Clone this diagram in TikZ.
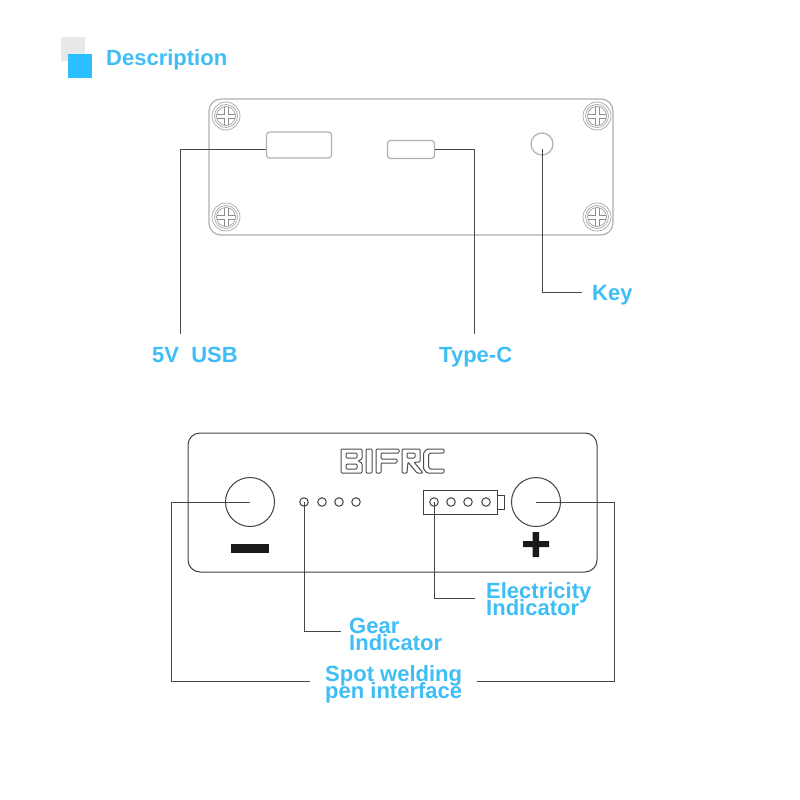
\documentclass[tikz,border=0pt]{standalone}
\usepackage{fontspec}
\usepackage{xcolor}
\setmainfont{Liberation Sans}
\usetikzlibrary{calc}
\definecolor{labelblue}{RGB}{62,190,245}
\definecolor{squareblue}{RGB}{45,190,255}
\definecolor{squaregrey}{RGB}{232,232,232}
\definecolor{panelgrey}{RGB}{175,175,175}
\definecolor{leadgrey}{RGB}{70,70,70}
\tikzset{
	label/.style={anchor=base west,inner sep=0pt,text=labelblue,font=\fontsize{22}{22}\selectfont\bfseries},
	lead/.style={draw=leadgrey,line width=1pt},
	panel/.style={draw=panelgrey,line width=1.2pt},
	front/.style={draw=black!75,line width=1pt},
	port/.style={panel,rounded corners=3pt,inner sep=0pt},
	lamp/.style={circle,front,minimum size=8.5pt,inner sep=0pt},
	knob/.style={circle,front,minimum size=49pt,inner sep=0pt},
	screwhead/.style={circle,panel,line width=0.8pt,minimum size=28pt,inner sep=0pt},
	logo/.style={draw=black!70,line width=1pt,rounded corners=1pt}
}
\newcommand{\screw}[2]{
	\node [screwhead] at (#1,#2) (#1#2) {};
	\draw [panelgrey,line width=0.8pt] (#1,#2) circle (11.5);
	\draw [panelgrey!80!black,line width=0.6pt] (#1,#2) circle (9.5);
	\draw [panelgrey!80!black,line width=0.6pt] (#1-1.8,#2-9) -- (#1-1.8,#2-1.8) -- (#1-9,#2-1.8) (#1+1.8,#2-9) -- (#1+1.8,#2-1.8) -- (#1+9,#2-1.8)
		(#1-1.8,#2+9) -- (#1-1.8,#2+1.8) -- (#1-9,#2+1.8) (#1+1.8,#2+9) -- (#1+1.8,#2+1.8) -- (#1+9,#2+1.8);
}
\begin{document}
\begin{tikzpicture}[x=1pt,y=-1pt]
		\useasboundingbox (0,0) rectangle (800,800);
		%heading
		\fill [squaregrey] (61,37) rectangle (85,61);
		\fill [squareblue] (68,54) rectangle (92,78);
		\node [label] at (106,66) (title) {Description};

		%upper panel
		\draw [panel,rounded corners=12pt] (209,99) rectangle (613,235);
		\screw{226}{116}
		\screw{597}{116}
		\screw{226}{217}
		\screw{597}{217}
		\node [port,draw,minimum width=65pt,minimum height=26pt] at (299,145) (usb) {};
		\node [port,draw,minimum width=47pt,minimum height=18pt] at (411,149.5) (typec) {};
		\node [circle,panel,draw,minimum size=22pt,inner sep=0pt] at (542,144) (key) {};

		\node [label] at (152,362) (usblabel) {5V\ \ USB};
		\node [label] at (439,362) (typeclabel) {Type-C};
		\node [label] at (592,300) (keylabel) {Key};

		\coordinate (usbend) at (180,334);
		\coordinate (typecend) at (474,334);
		\coordinate (keyend) at (582,292);
		\draw [lead] ($(usb.west)+(0,4)$) -| (usbend);
		\draw [lead] (typec.east) -| (typecend);
		\draw [lead] ($(key.center)+(0,5)$) |- (keyend);

		%lower panel
		\draw [front,rounded corners=12pt] (188,433) rectangle (597,572);
		\node [knob] at (250,502) (minus) {};
		\node [knob] at (536,502) (plus) {};
		\fill [black!90] (231,544) rectangle (269,553);
		\fill [black!90] (523,541) rectangle (549,547) (532.5,532) rectangle (539,557);

		\node [lamp] at (304,502) (gear1) {};
		\node [lamp] at (322,502) (gear2) {};
		\node [lamp] at (339,502) (gear3) {};
		\node [lamp] at (356,502) (gear4) {};

		\draw [front] (423,490) rectangle (497,514) (497,495) rectangle (504,509);
		\node [lamp] at (434,502) (cell1) {};
		\node [lamp] at (451,502) (cell2) {};
		\node [lamp] at (468,502) (cell3) {};
		\node [lamp] at (486,502) (cell4) {};

		%logo
		\draw [logo] (341,449) -- (362,449) -- (362,459) -- (358,461) -- (362,463) -- (362,473) -- (341,473) -- cycle;
		\draw [logo] (346,453) -- (357,453) -- (357,458) -- (346,458) -- cycle (346,464) -- (357,464) -- (357,469) -- (346,469) -- cycle;
		\draw [logo] (366,449) rectangle (372,473);
		\draw [logo] (376,473) -- (376,449) -- (399,449) -- (399,453) -- (381,453) -- (381,459) -- (397,459) -- (397,463) -- (381,463) -- (381,473) -- cycle;
		\draw [logo] (402,473) -- (402,449) -- (420,449) -- (420,462) -- (414,462) -- (423,473) -- (417,473) -- (408,462) -- (407,473) -- cycle;
		\draw [logo] (407,453) rectangle (415,458);
		\draw [logo] (444,449) -- (427,449) -- (423.5,453) -- (423.5,469) -- (427,473) -- (444,473) -- (444,469) -- (430,469) -- (428.5,467) -- (428.5,455) -- (430,453) -- (444,453) -- cycle;

		\node [label] at (349,633) (gearlabela) {Gear};
		\node [label] at (349,650) (gearlabelb) {Indicator};
		\node [label] at (486,598) (celllabela) {Electricity};
		\node [label] at (486,615) (celllabelb) {Indicator};
		\node [label] at (325,681) (penlabela) {Spot welding};
		\node [label] at (325,698) (penlabelb) {pen interface};

		\coordinate (gearend) at (341,631);
		\coordinate (cellend) at (475,598);
		\coordinate (penleft) at (310,681);
		\coordinate (penright) at (477,681);
		\draw [lead] (gear1.center) |- (gearend);
		\draw [lead] (cell1.center) |- (cellend);
		\draw [lead] (minus.center) -| (171,681) -- (penleft);
		\draw [lead] (plus.center) -| (614,681) -- (penright);
\end{tikzpicture}
\end{document}
